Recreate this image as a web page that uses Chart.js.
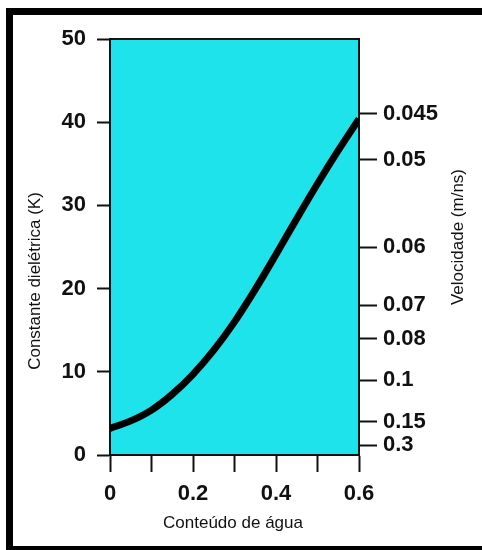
<!DOCTYPE html>
<html lang="pt">
<head>
    <meta charset="UTF-8">
    <title>Constante dielétrica vs conteúdo de água</title>
    <script src="https://cdn.jsdelivr.net/npm/chart.js"></script>
    <style>
        body {
            margin: 0;
            background: #fff;
            font-family: "Liberation Sans", Arial, sans-serif;
        }
        #wrap {
            position: relative;
            width: 482px;
            height: 550px;
            overflow: hidden;
        }
        #frame {
            position: absolute;
            left: 6px;
            top: 8px;
            width: 500px;
            height: 542px;
            box-sizing: border-box;
            border-left: 7px solid #000;
            border-top: 7px solid #000;
            border-bottom: 4px solid #000;
            pointer-events: none;
        }
    </style>
</head>
<body>
    <div id="wrap">
        <canvas id="chart" width="482" height="550"></canvas>
        <div id="frame"></div>
    </div>

    <script>
        // water content (x) and dielectric constant K (y)
        const waterContent = [0, 0.05, 0.1, 0.15, 0.2, 0.25, 0.3, 0.35, 0.4, 0.45, 0.5, 0.55, 0.6];
        const dielectricK = [3.2, 4.1, 5.4, 7.3, 9.7, 12.6, 16.0, 19.9, 24.1, 28.4, 32.6, 36.6, 40.4];

        // x axis ticks
        const xTicks = [0, 0.1, 0.2, 0.3, 0.4, 0.5, 0.6];
        const xTickLabels = ['0', '', '0.2', '', '0.4', '', '0.6'];

        // right axis: velocity labels placed at K positions
        const velTickK = [1.2, 4, 9, 14, 18, 25, 35.5, 41];
        const velTickLabels = ['0.3', '0.15', '0.1', '0.08', '0.07', '0.06', '0.05', '0.045'];

        const tickFont = { family: '"Liberation Sans", Arial, sans-serif', size: 22, weight: 'bold' };
        const ink = '#111';

        // cyan plot background + frame around the plot, axis titles
        const plotBox = {
            id: 'plotBox',
            beforeDatasetsDraw(chart) {
                const { ctx, chartArea: a } = chart;
                ctx.save();
                ctx.fillStyle = '#1ee3ea';
                ctx.fillRect(a.left, a.top, a.right - a.left, a.bottom - a.top);
                ctx.strokeStyle = ink;
                ctx.lineWidth = 2;
                ctx.strokeRect(a.left, a.top, a.right - a.left, a.bottom - a.top);
                ctx.restore();
            },
            afterDraw(chart) {
                const ctx = chart.ctx;
                ctx.save();
                ctx.fillStyle = ink;
                ctx.font = '17px "Liberation Sans", Arial, sans-serif';
                ctx.textAlign = 'center';
                ctx.textBaseline = 'middle';
                ctx.fillText('Conteúdo de água', 233, 523);

                ctx.translate(35, 281);
                ctx.rotate(-Math.PI / 2);
                ctx.fillText('Constante dielétrica (K)', 0, 0);
                ctx.restore();

                ctx.save();
                ctx.fillStyle = ink;
                ctx.font = '17px "Liberation Sans", Arial, sans-serif';
                ctx.textAlign = 'center';
                ctx.textBaseline = 'middle';
                ctx.translate(458, 237);
                ctx.rotate(-Math.PI / 2);
                ctx.fillText('Velocidade (m/ns)', 0, 0);
                ctx.restore();
            }
        };

        const points = waterContent.map((x, i) => ({ x: x, y: dielectricK[i] }));

        new Chart(document.getElementById('chart'), {
            type: 'line',
            data: {
                datasets: [{
                    data: points,
                    borderColor: '#000',
                    borderWidth: 7,
                    pointRadius: 0,
                    cubicInterpolationMode: 'monotone',
                    fill: false
                }]
            },
            options: {
                responsive: false,
                animation: false,
                layout: { padding: { top: 39, left: 0, right: 0, bottom: 0 } },
                plugins: {
                    legend: { display: false },
                    tooltip: { enabled: false }
                },
                scales: {
                    x: {
                        type: 'linear',
                        min: 0,
                        max: 0.6,
                        afterBuildTicks: s => { s.ticks = xTicks.map(v => ({ value: v })); },
                        afterFit: s => { s.height = 95; },
                        border: { color: ink, width: 2 },
                        grid: { drawOnChartArea: false, tickLength: 17, tickWidth: 2, tickColor: ink },
                        ticks: {
                            autoSkip: false,
                            maxRotation: 0,
                            padding: 9,
                            color: ink,
                            font: tickFont,
                            callback: (v, i) => xTickLabels[i]
                        }
                    },
                    y: {
                        position: 'left',
                        min: 0,
                        max: 50,
                        afterFit: s => { s.width = 110; },
                        border: { color: ink, width: 2 },
                        grid: { drawOnChartArea: false, tickLength: 13, tickWidth: 2, tickColor: ink },
                        ticks: { stepSize: 10, padding: 11, color: ink, font: tickFont }
                    },
                    y2: {
                        position: 'right',
                        min: 0,
                        max: 50,
                        afterBuildTicks: s => { s.ticks = velTickK.map(v => ({ value: v })); },
                        afterFit: s => { s.width = 123; },
                        border: { color: ink, width: 2 },
                        grid: { drawOnChartArea: false, tickLength: 18, tickWidth: 2, tickColor: ink },
                        ticks: {
                            autoSkip: false,
                            padding: 6,
                            color: ink,
                            font: tickFont,
                            callback: (v, i) => velTickLabels[i]
                        }
                    }
                }
            },
            plugins: [plotBox]
        });
    </script>
</body>
</html>
